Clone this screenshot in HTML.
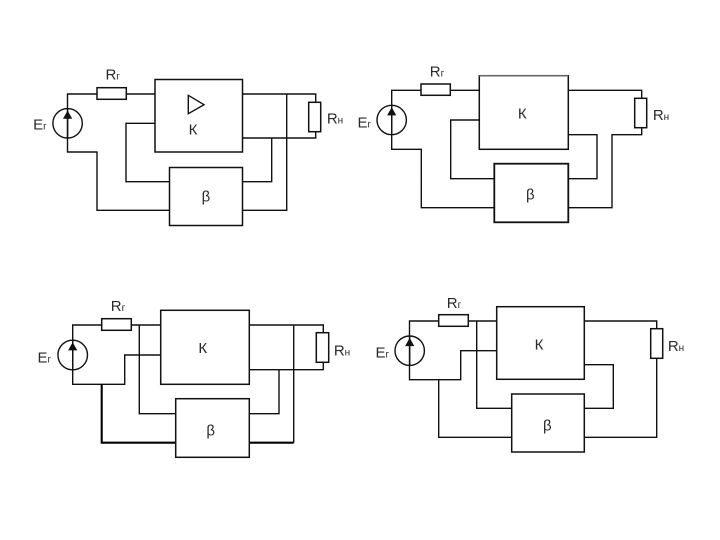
<!DOCTYPE html>
<html>
<head>
<meta charset="utf-8">
<style>
html,body{margin:0;padding:0;background:#fff;width:720px;height:540px;overflow:hidden}
svg{display:block}
.w{fill:none;stroke:#111;stroke-width:1.4}
.b{fill:#fff;stroke:#111;stroke-width:1.5}
.t{stroke:#000;stroke-width:2.1;fill:none}
text{font-family:"Liberation Sans",sans-serif;font-size:15px;fill:#2a2a2a;text-anchor:middle}
.s{font-size:10px}
.g{stroke:#666}
</style>
</head>
<body>
<svg width="720" height="540" viewBox="0 0 720 540" xmlns="http://www.w3.org/2000/svg">
<!-- Diagram 1 -->
<path class="w" d="M155 94H67.5V152H97V210.3H169.5M155 123.3H126V181.7H169.5M242.5 94H315.7V138H242.5M286.7 94V210.3H242.5M271.7 138V181.7H242.5"/>
<rect class="b" x="155" y="79.5" width="87.5" height="72.5"/>
<rect class="b" x="169.5" y="167.5" width="73" height="58"/>
<rect class="b" x="97" y="87.7" width="29.3" height="11.6"/>
<rect class="b" x="308.7" y="102.3" width="12" height="29.4"/>
<circle class="w" cx="67.6" cy="123.3" r="14.7"/>
<path class="w" d="M67.6 108.6V138"/>
<path d="M63 118.7L67.6 110.5L72.2 118.7Z" fill="#111"/>
<path class="w" d="M188.3 95.3L204 104.7L188.3 113.7Z"/>
<text x="112.7" y="79.5">R<tspan class="s">г</tspan></text>
<text x="40" y="129.5">E<tspan class="s">г</tspan></text>
<text x="193" y="134.5">К</text>
<text x="206" y="201.5">β</text>
<text x="335" y="123.5">R<tspan class="s">н</tspan></text>

<!-- Diagram 2 -->
<path class="w" d="M479.3 90.3H391.7V149.3H421.3V207.7H494.3M479.3 120H450.7V178.7H494.3M568.3 90.3H641.7V134.7H612V207.7H568.3M568.3 134.7H597V178.7H568.3"/>
<rect class="b" x="479.3" y="75.7" width="89" height="73.6"/>
<path class="g" d="M479.3 75.7H568.3" stroke-width="1.5" fill="none"/>
<rect class="b" x="494.3" y="163.7" width="74" height="58.6" style="stroke-width:1.8"/>
<rect class="b" x="421" y="84" width="29.3" height="11.3"/>
<rect class="b" x="634.7" y="98.3" width="12" height="29.4"/>
<circle class="w" cx="391.7" cy="120" r="14.7"/>
<path class="w" d="M391.7 105.3V134.7"/>
<path d="M387.1 115.4L391.7 107.2L396.3 115.4Z" fill="#111"/>
<text x="437" y="76.5">R<tspan class="s">г</tspan></text>
<text x="364.3" y="127.5">E<tspan class="s">г</tspan></text>
<text x="522.3" y="118.5">К</text>
<text x="530.3" y="199.5">β</text>
<text x="661" y="120">R<tspan class="s">н</tspan></text>

<!-- Diagram 3 -->
<path class="w" d="M160.7 325H72.7V384.3H124.7V355H160.7M139.3 325V413.7H175.7M249.3 325H323.3V369.7H249.3M293.7 325V442.7M279 369.7V413.7H249.3"/>
<path class="t" d="M101.7 384.3V442.7H175.7M249.3 442.7H293.7"/>
<rect class="b" x="160.7" y="310.3" width="88.6" height="74"/>
<rect class="b" x="175.7" y="398.7" width="73.6" height="58.6"/>
<rect class="b" x="101.7" y="318.7" width="29.6" height="11.6"/>
<rect class="b" x="316.3" y="332.7" width="12.4" height="29.6"/>
<circle class="w" cx="72.7" cy="355" r="14.8"/>
<path class="w" d="M72.7 340.2V369.8"/>
<path d="M68.1 350.4L72.7 342.2L77.3 350.4Z" fill="#111"/>
<text x="118" y="311">R<tspan class="s">г</tspan></text>
<text x="44.3" y="362.5">E<tspan class="s">г</tspan></text>
<text x="202.7" y="353">К</text>
<text x="210.7" y="435.5">β</text>
<text x="342" y="355.5">R<tspan class="s">н</tspan></text>

<!-- Diagram 4 -->
<path class="w" d="M496.7 321H409.5V379.7H460.7V350.7H496.7M438.7 379.7V437.3H511.7M476.7 321V408.3H511.7M584.3 321H656.7V437.3H584.3M584.3 364.7H613.3V408.3H584.3"/>
<rect class="b" x="496.7" y="306.7" width="87.6" height="72.6"/>
<rect class="b" x="511.7" y="394" width="72.6" height="58"/>
<rect class="b" x="438.7" y="314.7" width="29.6" height="11.6"/>
<rect class="b" x="650.7" y="328.7" width="12" height="29.6"/>
<circle class="w" cx="409.7" cy="350.7" r="14.7"/>
<path class="w" d="M409.7 336V365.4"/>
<path d="M405.1 346.1L409.7 337.9L414.3 346.1Z" fill="#111"/>
<text x="454" y="308">R<tspan class="s">г</tspan></text>
<text x="382.3" y="357.5">E<tspan class="s">г</tspan></text>
<text x="539" y="349.5">К</text>
<text x="547.3" y="430.5">β</text>
<text x="676" y="351">R<tspan class="s">н</tspan></text>
</svg>
</body>
</html>
